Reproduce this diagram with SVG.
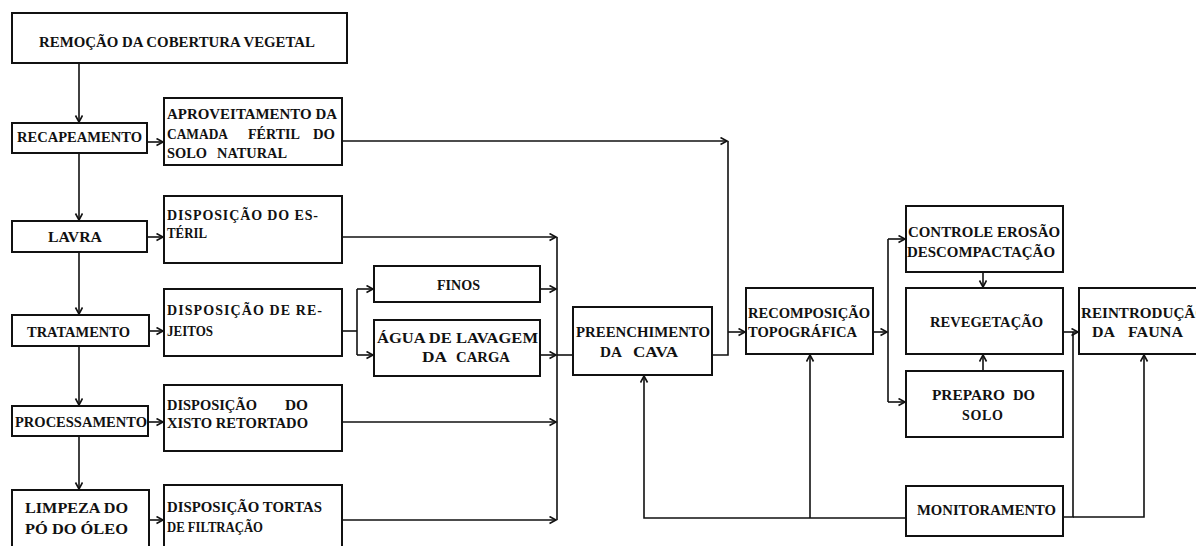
<svg xmlns="http://www.w3.org/2000/svg" width="1196" height="546" viewBox="0 0 1196 546">
<style>
.box{fill:#fff;stroke:#111;stroke-width:2}
.t{font-family:"Liberation Serif","Times New Roman",serif;font-weight:bold;font-size:14px;fill:#111}
.c{fill:none;stroke:#111;stroke-width:1.6}
.a{marker-end:url(#arr)}
</style>
<defs>
<marker id="arr" markerUnits="userSpaceOnUse" markerWidth="10" markerHeight="10" refX="7" refY="4" orient="auto">
<path d="M0.5,0.5 L7,4 L0.5,7.5" fill="none" stroke="#111" stroke-width="1.6"/>
</marker>
</defs>
<rect width="1196" height="546" fill="#fff"/>

<g id="connectors">
<path class="c a" d="M79,63 V122"/>
<path class="c a" d="M79,153 V220"/>
<path class="c a" d="M79,252 V314"/>
<path class="c a" d="M79,346 V405"/>
<path class="c a" d="M79,436 V489"/>
<path class="c a" d="M147,142 H163"/>
<path class="c a" d="M147,237 H163"/>
<path class="c a" d="M149,331 H163"/>
<path class="c a" d="M148,422 H163"/>
<path class="c a" d="M149,520 H163"/>
<path class="c a" d="M342,141 H727"/>
<path class="c" d="M728,141 V355 H712"/>
<path class="c a" d="M728,332 H745"/>
<path class="c a" d="M342,237 H556"/>
<path class="c" d="M557,237 V520"/>
<path class="c" d="M342,331 H357"/>
<path class="c" d="M357,289 V355"/>
<path class="c a" d="M357,289 H373"/>
<path class="c a" d="M357,355 H373"/>
<path class="c a" d="M540,289 H556"/>
<path class="c a" d="M540,355 H556"/>
<path class="c" d="M557,355 H573"/>
<path class="c a" d="M342,422 H556"/>
<path class="c a" d="M342,520 H556"/>
<path class="c a" d="M873,332 H887"/>
<path class="c" d="M888,239 V402"/>
<path class="c a" d="M888,239 H905"/>
<path class="c a" d="M888,402 H905"/>
<path class="c a" d="M983,272 V287"/>
<path class="c a" d="M983,371 V355"/>
<path class="c a" d="M1063,332 H1078"/>
<path class="c a" d="M906,518 H644 V376"/>
<path class="c a" d="M810,518 V355"/>
<path class="c" d="M1063,517 H1073 V332"/>
<path class="c a" d="M1073,517 H1144 V355"/>
</g>

<g id="n_remocao"><rect class="box" x="12" y="13" width="335" height="50"/><text class="t" x="39" y="47" textLength="276" lengthAdjust="spacingAndGlyphs">REMOÇÃO DA COBERTURA VEGETAL</text></g>
<g id="n_recapeamento"><rect class="box" x="12" y="123" width="135" height="30"/><text class="t" x="17" y="142" textLength="125" lengthAdjust="spacingAndGlyphs">RECAPEAMENTO</text></g>
<g id="n_aproveitamento"><rect class="box" x="164" y="98" width="178" height="67"/>
<text class="t" x="167" y="119" textLength="170" lengthAdjust="spacingAndGlyphs">APROVEITAMENTO DA</text>
<text class="t" x="167" y="139" textLength="61" lengthAdjust="spacingAndGlyphs">CAMADA</text>
<text class="t" x="248" y="139" textLength="52" lengthAdjust="spacingAndGlyphs">FÉRTIL</text>
<text class="t" x="313" y="139" textLength="22" lengthAdjust="spacingAndGlyphs">DO</text>
<text class="t" x="167" y="158" textLength="40" lengthAdjust="spacingAndGlyphs">SOLO</text>
<text class="t" x="217" y="158" textLength="70" lengthAdjust="spacingAndGlyphs">NATURAL</text></g>
<g id="n_lavra"><rect class="box" x="12" y="221" width="135" height="31"/><text class="t" x="48" y="242" textLength="54" lengthAdjust="spacingAndGlyphs">LAVRA</text></g>
<g id="n_esteril"><rect class="box" x="164" y="196" width="178" height="67"/>
<text class="t" x="167" y="220" textLength="151" lengthAdjust="spacing">DISPOSIÇÃO DO ES-</text>
<text class="t" x="167" y="238" textLength="40" lengthAdjust="spacingAndGlyphs">TÉRIL</text></g>
<g id="n_tratamento"><rect class="box" x="12" y="315" width="137" height="31"/><text class="t" x="27" y="337" textLength="103" lengthAdjust="spacingAndGlyphs">TRATAMENTO</text></g>
<g id="n_rejeitos"><rect class="box" x="164" y="289" width="178" height="67"/>
<text class="t" x="167" y="315" textLength="155" lengthAdjust="spacing">DISPOSIÇÃO DE RE-</text>
<text class="t" x="167" y="336" textLength="46" lengthAdjust="spacingAndGlyphs">JEITOS</text></g>
<g id="n_finos"><rect class="box" x="374" y="266" width="166" height="36"/><text class="t" x="437" y="290" textLength="43" lengthAdjust="spacingAndGlyphs">FINOS</text></g>
<g id="n_agua"><rect class="box" x="374" y="320" width="166" height="56"/>
<text class="t" x="377" y="343" textLength="161" lengthAdjust="spacingAndGlyphs">ÁGUA DE LAVAGEM</text>
<text class="t" x="422" y="362" textLength="25" lengthAdjust="spacingAndGlyphs">DA</text>
<text class="t" x="456" y="362" textLength="54" lengthAdjust="spacingAndGlyphs">CARGA</text></g>
<g id="n_processamento"><rect class="box" x="12" y="406" width="136" height="30"/><text class="t" x="15" y="427" textLength="132" lengthAdjust="spacingAndGlyphs">PROCESSAMENTO</text></g>
<g id="n_xisto"><rect class="box" x="164" y="385" width="178" height="66"/>
<text class="t" x="167" y="410" textLength="90" lengthAdjust="spacingAndGlyphs">DISPOSIÇÃO</text>
<text class="t" x="285" y="410" textLength="23" lengthAdjust="spacingAndGlyphs">DO</text>
<text class="t" x="167" y="428" textLength="141" lengthAdjust="spacingAndGlyphs">XISTO RETORTADO</text></g>
<g id="n_limpeza"><rect class="box" x="12" y="490" width="137" height="70"/>
<text class="t" x="25" y="513" textLength="103" lengthAdjust="spacingAndGlyphs">LIMPEZA DO</text>
<text class="t" x="25" y="534" textLength="103" lengthAdjust="spacingAndGlyphs">PÓ DO ÓLEO</text></g>
<g id="n_tortas"><rect class="box" x="164" y="485" width="178" height="75"/>
<text class="t" x="167" y="512" textLength="155" lengthAdjust="spacingAndGlyphs">DISPOSIÇÃO TORTAS</text>
<text class="t" x="167" y="532" textLength="96" lengthAdjust="spacingAndGlyphs">DE FILTRAÇÃO</text></g>
<g id="n_preenchimento"><rect class="box" x="573" y="307" width="139" height="68"/>
<text class="t" x="576" y="337" textLength="134" lengthAdjust="spacingAndGlyphs">PREENCHIMENTO</text>
<text class="t" x="600" y="357" textLength="22" lengthAdjust="spacingAndGlyphs">DA</text>
<text class="t" x="633" y="357" textLength="45" lengthAdjust="spacingAndGlyphs">CAVA</text></g>
<g id="n_recomposicao"><rect class="box" x="746" y="288" width="127" height="66"/>
<text class="t" x="748" y="318" textLength="122" lengthAdjust="spacingAndGlyphs">RECOMPOSIÇÃO</text>
<text class="t" x="748" y="337" textLength="109" lengthAdjust="spacingAndGlyphs">TOPOGRÁFICA</text></g>
<g id="n_controle"><rect class="box" x="906" y="206" width="157" height="66"/>
<text class="t" x="908" y="237" textLength="152" lengthAdjust="spacingAndGlyphs">CONTROLE EROSÃO</text>
<text class="t" x="907" y="257" textLength="148" lengthAdjust="spacingAndGlyphs">DESCOMPACTAÇÃO</text></g>
<g id="n_revegetacao"><rect class="box" x="906" y="288" width="157" height="66"/>
<text class="t" x="930" y="327" textLength="113" lengthAdjust="spacingAndGlyphs">REVEGETAÇÃO</text></g>
<g id="n_preparo"><rect class="box" x="906" y="371" width="157" height="66"/>
<text class="t" x="932" y="400" textLength="73" lengthAdjust="spacingAndGlyphs">PREPARO</text>
<text class="t" x="1013" y="400" textLength="22" lengthAdjust="spacingAndGlyphs">DO</text>
<text class="t" x="962" y="420" textLength="41" lengthAdjust="spacing">SOLO</text></g>
<g id="n_reintroducao"><rect class="box" x="1079" y="288" width="140" height="66"/>
<text class="t" x="1081" y="318" textLength="126" lengthAdjust="spacingAndGlyphs">REINTRODUÇÃO</text>
<text class="t" x="1092" y="337" textLength="23" lengthAdjust="spacingAndGlyphs">DA</text>
<text class="t" x="1128" y="337" textLength="55" lengthAdjust="spacingAndGlyphs">FAUNA</text></g>
<g id="n_monitoramento"><rect class="box" x="906" y="486" width="157" height="50"/>
<text class="t" x="917" y="515" textLength="139" lengthAdjust="spacingAndGlyphs">MONITORAMENTO</text></g>
</svg>
